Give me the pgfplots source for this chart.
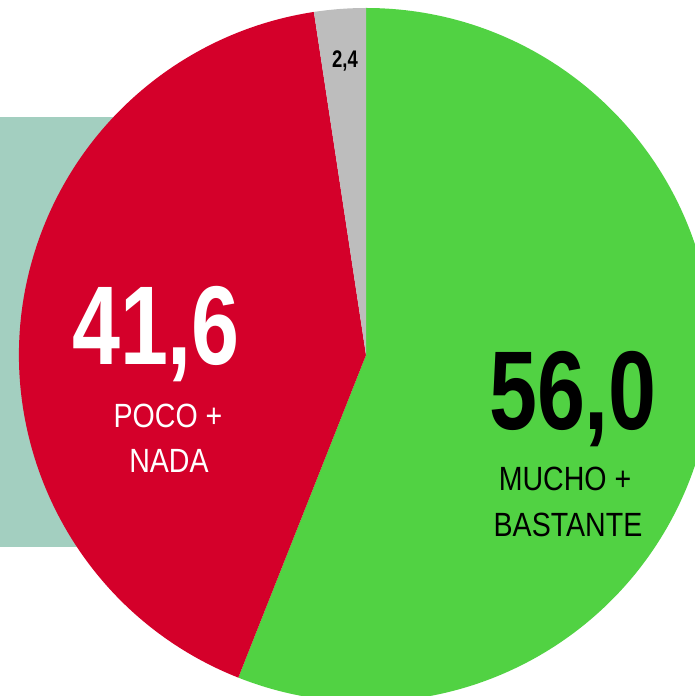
\documentclass[border=0pt]{standalone}
\usepackage{pgfplots}
\pgfplotsset{compat=1.18}
\usepackage{pgfplotstable}
\usepackage{fontspec}
\setmainfont{Liberation Sans}
\newfontfamily\condb[FakeStretch=0.77]{Liberation Sans}
\newfontfamily\condr[FakeStretch=0.85]{Liberation Sans}
\definecolor{pgreen}{RGB}{81,210,67}
\definecolor{pred}{RGB}{212,0,42}
\definecolor{pgray}{RGB}{189,189,189}
\definecolor{pteal}{RGB}{163,207,192}

\pgfplotstableread{
label value
MB 56.0
PN 41.6
NS 2.4
}\piedata
\pgfplotstablegetelem{0}{value}\of\piedata \let\va\pgfplotsretval
\pgfplotstablegetelem{1}{value}\of\piedata \let\vb\pgfplotsretval
\pgfplotstablegetelem{2}{value}\of\piedata \let\vc\pgfplotsretval
\pgfmathsetmacro\aA{90}
\pgfmathsetmacro\aB{\aA-3.6*\va}
\pgfmathsetmacro\aC{\aB-3.6*\vb}
\pgfmathsetmacro\aD{\aC-3.6*\vc}

\begin{document}
\begin{tikzpicture}
\begin{axis}[
  width=347.5pt, height=348pt, scale only axis,
  xmin=0, xmax=695, ymin=0, ymax=696,
  hide axis, clip=true,
]
\path (axis cs:0,0) rectangle (axis cs:695,696);
\fill[pteal, overlay] (axis cs:0,149) rectangle (axis cs:200,579);
\def\cx{366}\def\cy{341}\def\R{173.5pt}
\fill[pgreen, overlay] (axis cs:\cx,\cy) -- +(\aA:\R) arc[start angle=\aA, end angle=\aB, radius=\R] -- cycle;
\fill[pred, overlay] (axis cs:\cx,\cy) -- +(\aB:\R) arc[start angle=\aB, end angle=\aC, radius=\R] -- cycle;
\fill[pgray, overlay] (axis cs:\cx,\cy) -- +(\aC:\R) arc[start angle=\aC, end angle=\aD, radius=\R] -- cycle;

\node[anchor=base, text=white, inner sep=0pt] at (axis cs:156,331) {\condb\bfseries\fontsize{56}{56}\selectfont 41,6};
\node[anchor=base, text=white, inner sep=0pt] at (axis cs:168,268) {\condr\fontsize{16.8}{16.8}\selectfont POCO +};
\node[anchor=base, text=white, inner sep=0pt] at (axis cs:169,223) {\condr\fontsize{16.8}{16.8}\selectfont NADA};

\node[anchor=base, text=black, inner sep=0pt] at (axis cs:573,266) {\condb\bfseries\fontsize{56}{56}\selectfont 56,0};
\node[anchor=base, text=black, inner sep=0pt] at (axis cs:565,205) {\condr\fontsize{16.8}{16.8}\selectfont MUCHO +};
\node[anchor=base, text=black, inner sep=0pt] at (axis cs:568,159) {\condr\fontsize{16.8}{16.8}\selectfont BASTANTE};

\node[anchor=base, text=black, inner sep=0pt] at (axis cs:345,628) {\condb\bfseries\fontsize{12}{12}\selectfont 2,4};
\end{axis}
\end{tikzpicture}
\end{document}
